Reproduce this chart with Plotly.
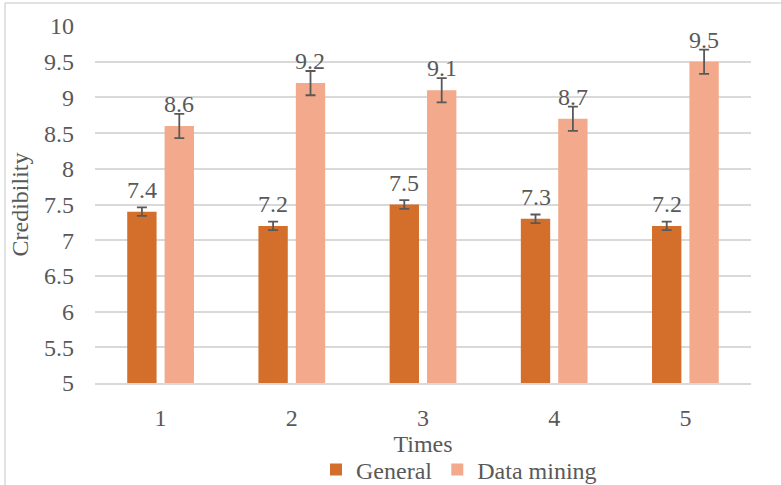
import plotly.graph_objects as go

times = ["1", "2", "3", "4", "5"]
general = [7.4, 7.2, 7.5, 7.3, 7.2]
general_err = [0.06, 0.06, 0.06, 0.06, 0.06]
data_mining = [8.6, 9.2, 9.1, 8.7, 9.5]
data_mining_err = [0.17, 0.17, 0.17, 0.17, 0.17]
y_ticks = [5, 5.5, 6, 6.5, 7, 7.5, 8, 8.5, 9, 9.5, 10]

C_GEN = "#D36E2B"
C_DM = "#F3A98B"
TXT = "#595959"
FONT = "Liberation Serif"
FS = 24

L, R, T, B = 95, 30, 26, 102
W, H = 781, 485
pw, ph = W - L - R, H - T - B
BARGAP = 0.43

fig = go.Figure()
fig.add_trace(go.Bar(
    name="General", x=times, y=general, marker_color=C_GEN, marker_line_width=0,
    error_y=dict(type="data", array=general_err, color=TXT, thickness=1.8, width=5),
))
fig.add_trace(go.Bar(
    name="Data mining", x=times, y=data_mining, marker_color=C_DM, marker_line_width=0,
    error_y=dict(type="data", array=data_mining_err, color=TXT, thickness=1.8, width=5),
))

# data labels
slot_px = pw / len(times) * (1 - BARGAP) / 2
for vals, shift in ((general, -slot_px / 2), (data_mining, slot_px / 2)):
    for i, v in enumerate(vals):
        fig.add_annotation(x=i, y=v, xref="x", yref="y", text=f"{v:g}", showarrow=False,
                           xshift=shift, yshift=22, yanchor="middle",
                           font=dict(family=FONT, size=FS, color=TXT))

# outer chart border (left and top visible)
bx = (5 - L) / pw
by = 1 + (T - 3) / ph
fig.add_shape(type="line", xref="paper", yref="paper", x0=bx, x1=bx, y0=-2, y1=by,
              line=dict(color="#D9D9D9", width=1.5))
fig.add_shape(type="line", xref="paper", yref="paper", x0=bx, x1=3, y0=by, y1=by,
              line=dict(color="#D9D9D9", width=1.5))

fig.update_layout(
    width=W, height=H,
    margin=dict(l=L, r=R, t=T, b=B, autoexpand=False),
    paper_bgcolor="white", plot_bgcolor="white",
    barmode="group", bargap=BARGAP, bargroupgap=0.215,
    font=dict(family=FONT, size=FS, color=TXT),
    showlegend=True,
    legend=dict(orientation="h", x=(316 - L) / pw, xanchor="left",
                y=-(470 - (T + ph)) / ph, yanchor="middle",
                font=dict(family=FONT, size=FS, color=TXT),
                itemwidth=30, tracegroupgap=0, bgcolor="rgba(0,0,0,0)"),
    xaxis=dict(type="category", range=[-0.5, len(times) - 0.5], showgrid=False,
               showline=True, linecolor="#D9D9D9", automargin=False,
               linewidth=1.5, ticks="", ticklabelstandoff=12,
               title=dict(text="Times", font=dict(family=FONT, size=FS, color=TXT), standoff=5)),
    yaxis=dict(range=[5, 10], tickvals=y_ticks, ticktext=[f"{v:g}" for v in y_ticks],
               showgrid=True, gridcolor="#D9D9D9", gridwidth=1.5, zeroline=False,
               showline=False, ticks="", ticklabelstandoff=20, automargin=False,
               title=dict(text="Credibility", font=dict(family=FONT, size=FS, color=TXT), standoff=8)),
)

fig.write_html("out.html", config={"displayModeBar": False},
               post_script="document.body.style.margin='0';document.body.style.overflow='hidden';")
